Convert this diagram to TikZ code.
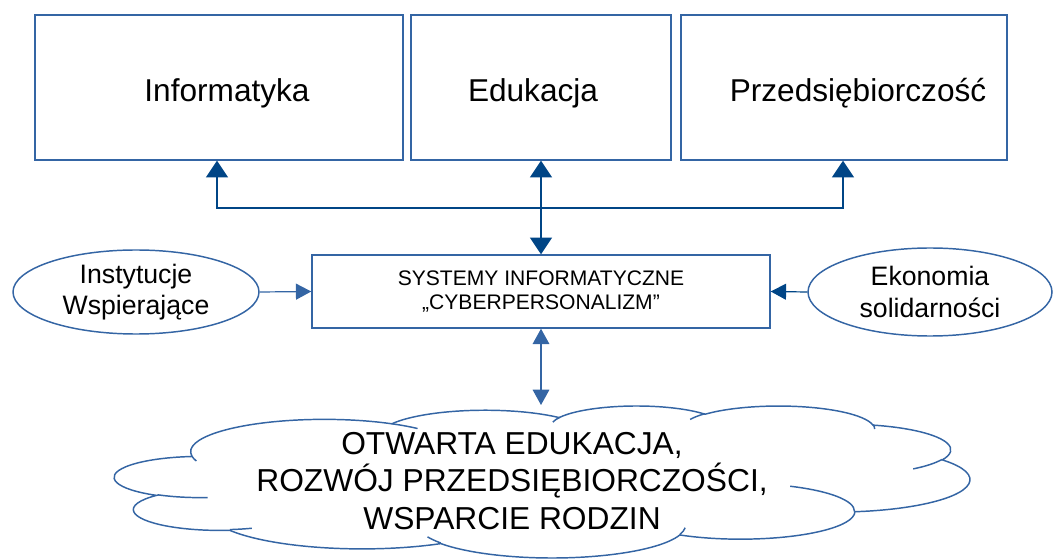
\documentclass[tikz,border=0pt]{standalone}
\usepackage{fontspec}
\setmainfont{Liberation Sans}
\usetikzlibrary{arrows.meta, shapes.geometric, positioning}
\definecolor{boxblue}{RGB}{52,101,164}
\definecolor{headblue}{RGB}{0,69,134}
\tikzset{topbox/.style={draw=boxblue,line width=1.1pt,minimum height=108.75pt,inner sep=0pt,text height=21.75pt,text depth=0pt,font=\fontsize{23.7}{28}\selectfont},
         sysbox/.style={draw=boxblue,line width=1.1pt,minimum width=343.5pt,minimum height=54.75pt,inner sep=0pt,align=center,font=\fontsize{15.8}{18}\selectfont},
         oval/.style={ellipse,draw=boxblue,line width=1.1pt,inner sep=0pt,align=center,font=\fontsize{20}{23.3}\selectfont},
         cloudline/.style={draw=boxblue,line width=1.1pt},
         toparr/.style={draw=headblue,line width=0.8pt,arrows={Triangle[width=16.5pt,length=12.5pt]-Triangle[width=16.5pt,length=12.5pt]}},
         lowarr/.style={draw=boxblue,line width=0.9pt,arrows={Triangle[width=12.5pt,length=11.5pt]-Triangle[width=12.5pt,length=11.5pt]}},
         sidearr/.style={line width=0.9pt,arrows={-Triangle[width=12pt,length=11.5pt]}}}

\begin{document}
\begin{tikzpicture}[x=0.75pt,y=-0.75pt]
        \useasboundingbox (0,0) rectangle (1053,559);

        % cloud outline
        \begin{scope}[shift={(114.7,405.5)},x=1.4842pt,y=-0.26378pt]
        \filldraw[cloudline,fill=white] (39.00,143.70)
          arc[start angle=-187.75,end angle=-59.64,x radius=67.53,y radius=91.90]
          arc[start angle=-152.03,end angle=-45.41,x radius=53.33,y radius=72.67]
          arc[start angle=-153.50,end angle=-37.34,x radius=43.65,y radius=59.45]
          arc[start angle=-139.70,end angle=-10.21,x radius=48.57,y radius=65.95]
          arc[start angle=-74.77,end angle=23.21,x radius=53.33,y radius=72.73]
          arc[start angle=-37.52,end angle=81.86,x radius=67.75,y radius=92.20]
          arc[start angle=0.46,end angle=121.98,x radius=57.85,y radius=78.67]
          arc[start angle=16.84,end angle=146.22,x radius=67.52,y radius=92.15]
          arc[start angle=58.99,end angle=150.18,x radius=77.20,y radius=105.43]
          arc[start angle=-276.69,end angle=-136.90,x radius=43.60,y radius=59.18]
          arc[start angle=-239.65,end angle=-95.89,x radius=43.45,y radius=59.45]
          -- cycle;
        \draw[cloudline] (46.93,261.77) arc[start angle=85.55,end angle=120.35,x radius=43.45,y radius=59.45];
        \draw[cloudline] (69.28,348.99) arc[start angle=68.24,end angle=83.31,x radius=43.60,y radius=59.18];
        \draw[cloudline] (164.78,390.90) arc[start angle=146.22,end angle=158.47,x radius=67.52,y radius=92.15];
        \draw[cloudline] (288.27,347.51) arc[start angle=4.74,end angle=16.84,x radius=67.52,y radius=92.15];
        \draw[cloudline] (341.29,229.54) arc[start angle=-64.03,end angle=0.46,x radius=57.85,y radius=78.67];
        \draw[cloudline] (417.98,153.54) arc[start angle=23.21,end angle=49.64,x radius=53.33,y radius=72.73];
        \draw[cloudline] (383.24,54.26) arc[start angle=-10.21,end angle=0.82,x radius=48.57,y radius=65.95];
        \draw[cloudline] (290.78,39.52) arc[start angle=-156.28,end angle=-139.70,x radius=48.57,y radius=65.95];
        \draw[cloudline] (221.41,47.20) arc[start angle=-167.73,end angle=-153.50,x radius=43.65,y radius=59.45];
        \draw[cloudline] (140.00,51.92) arc[start angle=-59.64,end angle=-45.69,x radius=67.53,y radius=91.90];
        \draw[cloudline] (41.27,157.89) arc[start angle=163.20,end angle=172.25,x radius=67.53,y radius=91.90];
        \end{scope}

        \node[topbox, minimum width=276pt](info)at(219,87.5){\hspace*{12pt}Informatyka};
        \node[topbox, minimum width=195pt](edu)at(541,87.5){Edukacja\hspace*{12pt}};
        \node[topbox, minimum width=244.5pt](przed)at(844,87.5){\hspace*{21pt}Przedsiębiorczość};
        \node[sysbox](sys)at(541,291.5){SYSTEMY INFORMATYCZNE\\„CYBERPERSONALIZM”};
        \node[oval, minimum width=184.5pt, minimum height=63pt](inst)at(136,292){Instytucje\\Wspierające};
        \node[oval, minimum width=183pt, minimum height=66pt](ekon)at(930,292){Ekonomia\\solidarności};
        \node[align=center, font=\fontsize{23.8}{28.1}\selectfont](txt)at(512,481){OTWARTA EDUKACJA,\\ROZWÓJ PRZEDSIĘBIORCZOŚCI,\\WSPARCIE RODZIN};

        \coordinate (jl) at (217,208);
        \coordinate (jr) at (843,208);
        \coordinate (cl) at (541,405);
        \draw[toparr](info.south -| jl) -- (jl) -- (jr) -- (przed.south -| jr);
        \draw[toparr](edu.south) -- (sys.north);
        \draw[sidearr, draw=boxblue](inst.east) -- (sys.west);
        \draw[sidearr, draw=headblue](ekon.west) -- (sys.east);
        \draw[lowarr](sys.south) -- (cl);
\end{tikzpicture}
\end{document}
